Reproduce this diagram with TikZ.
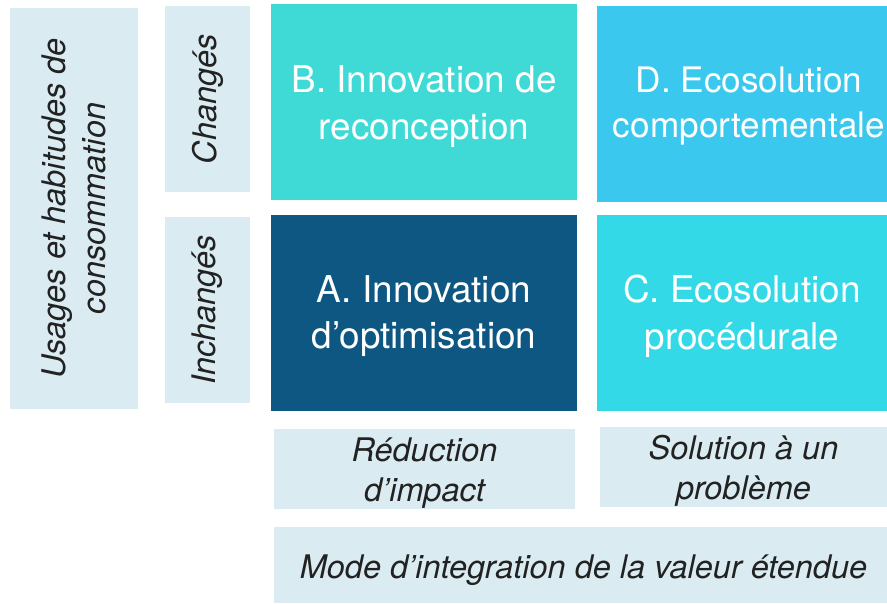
\documentclass[tikz,border=0pt]{standalone}
\usepackage{fontspec}
\setmainfont{TeX Gyre Heros}
\usetikzlibrary{positioning}

\definecolor{paleBlue}{HTML}{DAECF2}
\definecolor{turquoiseB}{HTML}{3FD9D6}
\definecolor{skyD}{HTML}{3AC8EE}
\definecolor{navyA}{HTML}{0D5782}
\definecolor{cyanC}{HTML}{33D9E6}
\definecolor{labelGray}{HTML}{222222}

\begin{document}
\begin{tikzpicture}[x=0.02cm,y=-0.02cm]
	\tikzstyle{quad} = [inner sep=0pt,minimum width=6.12cm,minimum height=3.94cm]
	\tikzstyle{quadtext} = [inner sep=0pt,text=white,align=center,font=\fontsize{21}{26.5}\selectfont]
	\tikzstyle{tag} = [fill=paleBlue,inner sep=0pt,minimum height=1.6cm]
	\tikzstyle{tagtext} = [inner sep=0pt,text=labelGray,align=center,font=\fontsize{18.5}{23}\selectfont\itshape]
	\useasboundingbox (0,0) rectangle (887,603);

	% axe vertical
	\node[tag,minimum width=2.56cm,minimum height=8.02cm] (Usages) at (74,208.5) {};
	\node[rotate=90,tagtext] (UsagesText) at (Usages.center) {Usages et habitudes de\\consommation};
	\node[tag,minimum width=1.7cm,minimum height=3.72cm] (Changes) at (207.5,99) {};
	\node[rotate=90,tagtext] (ChangesText) at (Changes.center) {Changés};
	\node[tag,minimum width=1.7cm,minimum height=3.72cm] (Inchanges) at (207.5,310) {};
	\node[rotate=90,tagtext] (InchangesText) at (Inchanges.center) {Inchangés};

	% matrice
	\node[quad,fill=turquoiseB] (B) at (424,102) {};
	\node[quad,fill=skyD,minimum width=5.8cm] (D) at (742,104) {};
	\node[quad,fill=navyA,minimum height=3.92cm] (A) at (424,313) {};
	\node[quad,fill=cyanC,minimum width=5.8cm,minimum height=3.92cm] (C) at (742,313) {};
	\node[quadtext] (BText) at ([yshift=-0.09cm]B.center) {B. Innovation de\\reconception};
	\node[quadtext,font=\fontsize{20}{25.5}\selectfont] (DText) at ([yshift=-0.04cm,xshift=0.14cm]D.center) {D. Ecosolution\\comportementale};
	\node[quadtext] (AText) at ([yshift=-0.06cm]A.center) {A. Innovation\\d’optimisation};
	\node[quadtext] (CText) at ([yshift=-0.06cm]C.center) {C. Ecosolution\\procédurale};

	% axe horizontal
	\node[tag,minimum width=6.02cm] (Reduction) at (424.5,469) {};
	\node[tag,minimum width=5.74cm] (Solution) at (743.5,467) {};
	\node[tag,minimum width=12.26cm,minimum height=1.52cm] (Mode) at (580.5,565) {};
	\node[tagtext] (ReductionText) at ([yshift=-0.08cm]Reduction.center) {Réduction\\d’impact};
	\node[tagtext] (SolutionText) at ([yshift=-0.08cm]Solution.center) {Solution à un\\problème};
	\node[tagtext] (ModeText) at ([yshift=-0.1cm,xshift=0.06cm]Mode.center) {Mode d’integration de la valeur étendue};
\end{tikzpicture}
\end{document}
